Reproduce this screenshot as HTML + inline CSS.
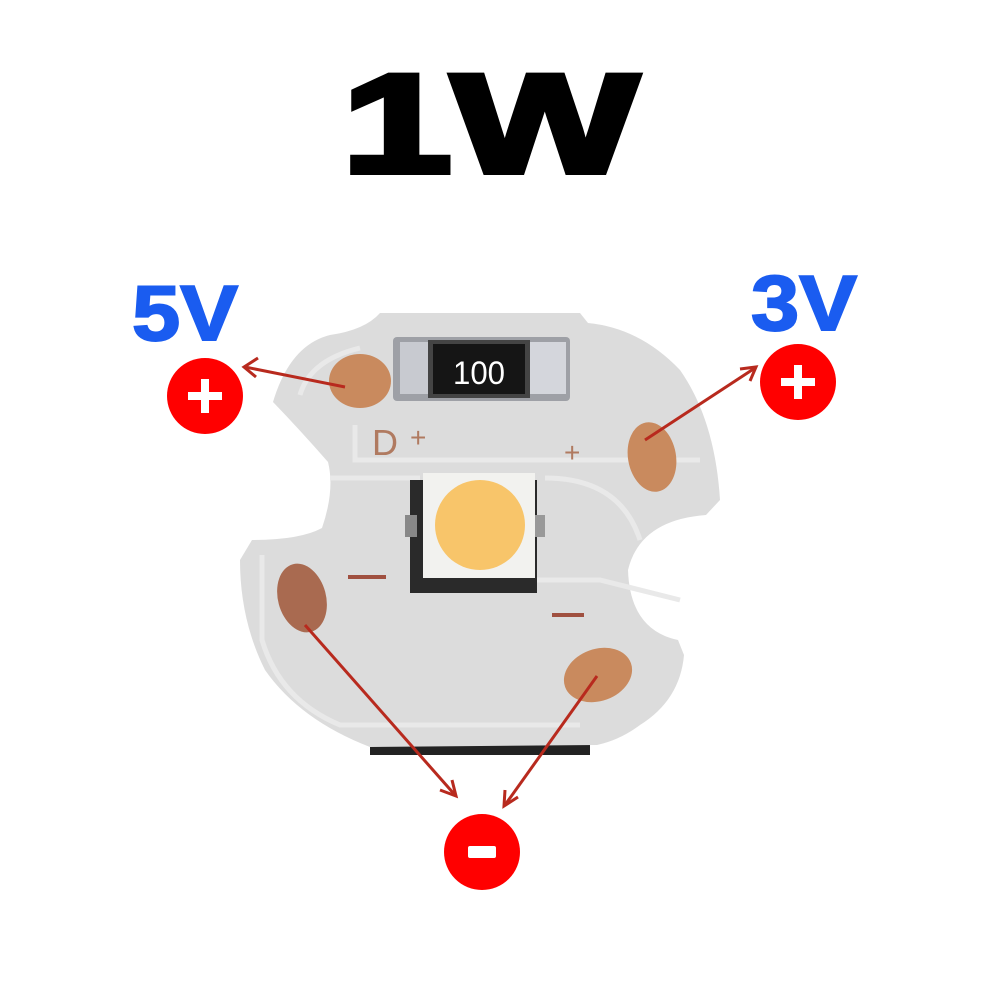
<!DOCTYPE html>
<html><head><style>
html,body{margin:0;padding:0;background:#fff;width:1000px;height:1000px;overflow:hidden}
</style></head><body>
<svg width="1000" height="1000" viewBox="0 0 1000 1000" xmlns="http://www.w3.org/2000/svg">
<text x="490" y="172" text-anchor="middle" font-family="Liberation Sans, sans-serif" font-weight="900" font-size="140" fill="#000" stroke="#000" stroke-width="6" textLength="296" lengthAdjust="spacingAndGlyphs">1W</text>
<text x="185" y="340" text-anchor="middle" font-family="Liberation Sans, sans-serif" font-weight="bold" font-size="78" fill="#1a5cf0" stroke="#1a5cf0" stroke-width="2" textLength="106" lengthAdjust="spacingAndGlyphs">5V</text>
<text x="804" y="330" text-anchor="middle" font-family="Liberation Sans, sans-serif" font-weight="bold" font-size="78" fill="#1a5cf0" stroke="#1a5cf0" stroke-width="2" textLength="106" lengthAdjust="spacingAndGlyphs">3V</text>
<rect x="370" y="735" width="220" height="20" fill="#222"/>
<path d="M380,313 L580,313 L588,323 Q640,328 680,370 Q715,420 720,500 L706,515 Q640,520 628,570 Q630,630 678,640 L684,655 Q680,700 640,725 Q620,740 597,745 L370,747 Q300,720 265,670 Q240,620 240,560 L252,540 Q300,540 322,528 Q335,490 328,462 Q300,430 273,402 Q290,345 330,335 Q365,330 380,313 Z" fill="#dcdcdc"/>
<path d="M355,425 L355,460 L700,460 M330,478 L420,478 M545,478 Q620,478 640,540 M262,555 L262,640 Q280,700 340,725 L580,725 M420,580 L600,580 Q640,590 680,600" stroke="#e9e9e9" stroke-width="5" fill="none"/>
<path d="M300,395 Q310,360 360,348" stroke="#e9e9e9" stroke-width="5" fill="none"/>
<ellipse cx="360" cy="381" rx="31" ry="27" fill="#c98a5e"/>
<ellipse cx="652" cy="457" rx="24" ry="35" transform="rotate(-10 652 457)" fill="#c98a5e"/>
<ellipse cx="302" cy="598" rx="24" ry="35" transform="rotate(-15 302 598)" fill="#a96a50"/>
<ellipse cx="598" cy="675" rx="35" ry="26" transform="rotate(-20 598 675)" fill="#c98a5e"/>
<text x="372" y="455" font-family="Liberation Sans, sans-serif" font-size="36" fill="#b07a60">D</text>
<text x="410" y="447" font-family="Liberation Sans, sans-serif" font-size="28" fill="#b07a60">+</text>
<text x="564" y="462" font-family="Liberation Sans, sans-serif" font-size="28" fill="#b07a60">+</text>
<rect x="348" y="575" width="38" height="4" fill="#a05040"/>
<rect x="552" y="613" width="32" height="4" fill="#a05040"/>
<rect x="393" y="337" width="177" height="64" rx="4" fill="#9ea0a6"/>
<rect x="400" y="342" width="30" height="52" fill="#c8cad0"/>
<rect x="530" y="342" width="36" height="52" fill="#d4d6dc"/>
<rect x="428" y="340" width="102" height="58" fill="#444"/>
<rect x="433" y="344" width="92" height="50" fill="#151515"/>
<text x="479" y="384" text-anchor="middle" font-family="Liberation Sans, sans-serif" font-size="32" fill="#fff" textLength="52" lengthAdjust="spacingAndGlyphs">100</text>
<rect x="410" y="480" width="127" height="113" fill="#2a2a2a"/>
<rect x="405" y="515" width="12" height="22" fill="#888"/>
<rect x="535" y="515" width="10" height="22" fill="#999"/>
<rect x="423" y="473" width="112" height="105" fill="#f2f2ef"/>
<circle cx="480" cy="525" r="45" fill="#f8c56a"/>
<g stroke="#b82a1e" stroke-width="3" fill="none">
<line x1="345" y1="387" x2="245" y2="367"/><path d="M258,358 L244,367 L256,377"/>
<line x1="645" y1="440" x2="755" y2="368"/><path d="M740,369 L756,367 L750,381"/>
<line x1="305" y1="625" x2="455" y2="795"/><path d="M452,780 L456,796 L440,790"/>
<line x1="597" y1="676" x2="505" y2="805"/><path d="M505,790 L504,806 L518,797"/>
</g>
<circle cx="205" cy="396" r="38" fill="#f00"/>
<rect x="188" y="392" width="34" height="8" fill="#fff"/><rect x="201" y="379" width="8" height="34" fill="#fff"/>
<circle cx="798" cy="382" r="38" fill="#f00"/>
<rect x="781" y="378" width="34" height="8" fill="#fff"/><rect x="794" y="365" width="8" height="34" fill="#fff"/>
<circle cx="482" cy="852" r="38" fill="#f00"/>
<rect x="468" y="846" width="28" height="12" rx="2" fill="#fff"/>
</svg>
</body></html>
